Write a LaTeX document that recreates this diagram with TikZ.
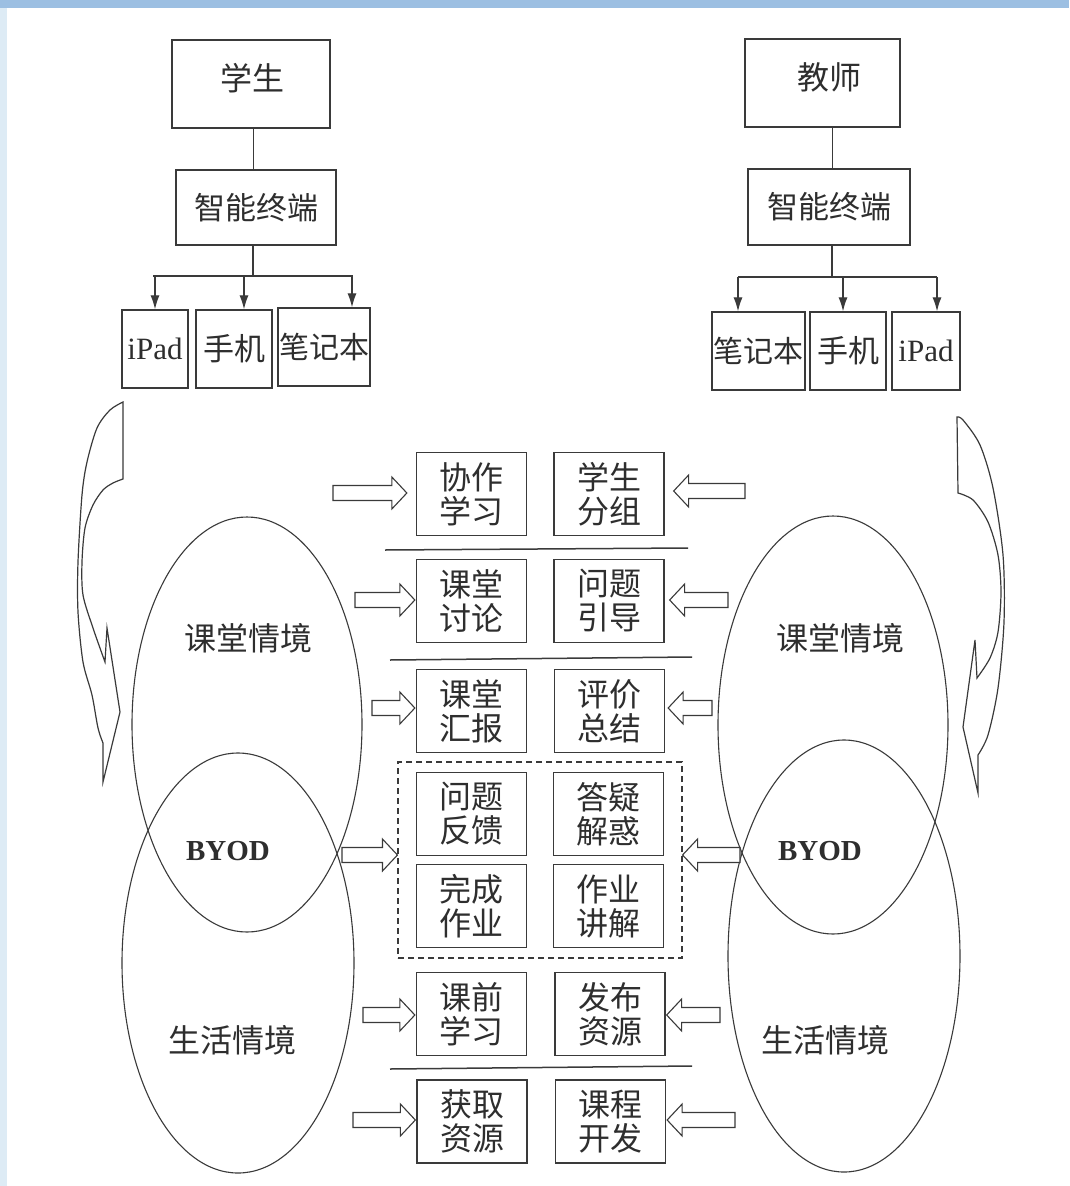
\documentclass[tikz,border=0pt]{standalone}
\usepackage{fontspec}
\setmainfont{Liberation Serif}
\newfontfamily\cjk{Noto Sans CJK SC}
\usetikzlibrary{calc,shapes.geometric,arrows.meta}
\definecolor{ink}{HTML}{3A3A3A}
\definecolor{txt}{HTML}{2E2E2E}
\definecolor{topband}{HTML}{9CBFE2}
\definecolor{sideband}{HTML}{DDEBF5}
\tikzset{
  ln/.style={draw=ink, line width=1.3pt},
  thinln/.style={draw=ink, line width=0.9pt},
  box/.style={ln, rectangle, inner sep=0pt, text=txt},
  cbox/.style={box, minimum width=110pt, minimum height=83pt, align=center, font=\cjk\fontsize{32}{34}\selectfont},
  dbox/.style={box, font=\cjk\fontsize{31}{34}\selectfont},
  nbbox/.style={box, font=\cjk\fontsize{30}{34}\selectfont},
  latbox/.style={box, font=\fontsize{31}{34}\selectfont},
  ell/.style={draw=ink, line width=1.1pt, ellipse, inner sep=0pt},
  lab/.style={text=txt, inner sep=0pt, font=\cjk\fontsize{32}{34}\selectfont},
  blab/.style={text=txt, inner sep=0pt, font=\bfseries\fontsize{29}{34}\selectfont},
  harrow/.style={draw=ink, line width=1.1pt, fill=white},
  sepline/.style={draw=ink, line width=1.5pt},
  curv/.style={draw=ink, line width=1.2pt},
  tip/.style={draw=ink, line width=1.2pt, -{Latex[length=14pt,width=9pt]}},
}
% right-pointing hollow arrow: #1 tail coordinate, #2 target anchor, #3 gap
\newcommand\rarr[3]{%
  \draw[harrow] let \p1=(#1), \p2=(#2 |- #1) in
    (\x1,\y1+7.5pt) -- (\x2-#3pt-15pt,\y1+7.5pt) -- (\x2-#3pt-15pt,\y1+16pt)
    -- (\x2-#3pt,\y1) -- (\x2-#3pt-15pt,\y1-16pt) -- (\x2-#3pt-15pt,\y1-7.5pt)
    -- (\x1,\y1-7.5pt) -- cycle;}
% left-pointing hollow arrow
\newcommand\larr[3]{%
  \draw[harrow] let \p1=(#1), \p2=(#2 |- #1) in
    (\x1,\y1+7.5pt) -- (\x2+#3pt+15pt,\y1+7.5pt) -- (\x2+#3pt+15pt,\y1+16pt)
    -- (\x2+#3pt,\y1) -- (\x2+#3pt+15pt,\y1-16pt) -- (\x2+#3pt+15pt,\y1-7.5pt)
    -- (\x1,\y1-7.5pt) -- cycle;}
\begin{document}
\begin{tikzpicture}[x=1pt,y=-1pt]
\useasboundingbox (0,0) rectangle (1069,1186);
\fill[white] (0,0) rectangle (1069,1186);
\fill[topband] (0,0) rectangle (1069,8);
\fill[sideband] (0,8) rectangle (7,1186);

% ---------- ellipses ----------
\node[ell, minimum width=230pt, minimum height=415pt] (lu) at (247,724.5) {};
\node[ell, minimum width=232pt, minimum height=420pt] (ll) at (238,963) {};
\node[ell, minimum width=230pt, minimum height=418pt] (ru) at (833,725) {};
\node[ell, minimum width=232pt, minimum height=432pt] (rl) at (844,956) {};
\node[lab] (lut) at (248,638) {课堂情境};
\node[blab] (lbt) at (228,851) {BYOD};
\node[lab] (llt) at (232,1040) {生活情境};
\node[lab] (rut) at (840,638) {课堂情境};
\node[blab] (rbt) at (820,851) {BYOD};
\node[lab] (rlt) at (825,1040) {生活情境};

% ---------- curved arrows ----------
\draw[curv] (123,402) -- (123,479)
  -- plot[smooth] coordinates {(123,479) (113,483) (103,490) (93,505) (85,528) (82,562) (83,595) (93,628) (105,662)}
  -- (107,628) -- (120,712) -- (103,782) -- (103,743)
  -- plot[smooth] coordinates {(103,743) (98,728) (92,695) (83,662) (78,612) (78,562) (82,495) (87,462) (97,428) (110,410) (123,402)} -- cycle;
\draw[curv] (957,417) -- (958,493)
  -- plot[smooth] coordinates {(958,493) (973,500) (988,522) (998,555) (1001,592) (998,632) (990,658) (977,678)}
  -- (975,640) -- (963,727) -- (978,793) -- (978,755)
  -- plot[smooth] coordinates {(978,755) (988,735) (998,688) (1004,622) (1003,555) (993,488) (980,445) (963,420) (957,417)} -- cycle;

% ---------- left tree ----------
\node[box, minimum width=158pt, minimum height=88pt] (stu) at (251,84) {};
\node[lab] (stut) at (252,78) {学生};
\node[dbox, minimum width=160pt, minimum height=75pt] (lterm) at (256,207.5) {智能终端};
\coordinate (lv) at (253,0);
\draw[thinln] (stu.south -| lv) -- (lterm.north -| lv);
\coordinate (lbarL) at (153,276);
\coordinate (lbarR) at (353,276);
\draw[ln] (lterm.south -| lv) -- (lv |- lbarL);
\draw[ln] (lbarL) -- (lbarR);
\node[latbox, minimum width=66pt, minimum height=78pt] (lipad) at (155,349) {iPad};
\node[dbox, minimum width=76pt, minimum height=78pt] (lphone) at (234,349) {手机};
\node[nbbox, minimum width=92pt, minimum height=78pt] (lnote) at (324,347) {笔记本};
\coordinate (la1) at (155,276);
\coordinate (la2) at (244,276);
\coordinate (la3) at (352,276);
\draw[tip] (la1) -- (la1 |- lipad.north);
\draw[tip] (la2) -- (la2 |- lphone.north);
\draw[tip] (la3) -- (la3 |- lnote.north);

% ---------- right tree ----------
\node[box, minimum width=155pt, minimum height=88pt] (tea) at (822.5,83) {};
\node[lab] (teat) at (829,77) {教师};
\node[dbox, minimum width=162pt, minimum height=76pt] (rterm) at (829,207) {智能终端};
\coordinate (rv) at (832,0);
\draw[thinln] (tea.south -| rv) -- (rterm.north -| rv);
\coordinate (rbarL) at (738,277);
\coordinate (rbarR) at (937,277);
\draw[ln] (rterm.south -| rv) -- (rv |- rbarL);
\draw[ln] (rbarL) -- (rbarR);
\node[nbbox, minimum width=93pt, minimum height=78pt] (rnote) at (758.5,351) {笔记本};
\node[dbox, minimum width=76pt, minimum height=78pt] (rphone) at (848,351) {手机};
\node[latbox, minimum width=68pt, minimum height=78pt] (ripad) at (926,351) {iPad};
\coordinate (ra1) at (738,277);
\coordinate (ra2) at (843,277);
\coordinate (ra3) at (937,277);
\draw[tip] (ra1) -- (ra1 |- rnote.north);
\draw[tip] (ra2) -- (ra2 |- rphone.north);
\draw[tip] (ra3) -- (ra3 |- ripad.north);

% ---------- centre boxes ----------
\node[cbox] (a1) at (471.5,494) {协作\\学习};
\node[cbox] (b1) at (609,494) {学生\\分组};
\node[cbox] (a2) at (471.5,601) {课堂\\讨论};
\node[cbox] (b2) at (609,601) {问题\\引导};
\node[cbox] (a3) at (471.5,711) {课堂\\汇报};
\node[cbox] (b3) at (609.5,711) {评价\\总结};
\node[cbox] (a4) at (471.5,814) {问题\\反馈};
\node[cbox] (b4) at (608.5,814) {答疑\\解惑};
\node[cbox] (a5) at (471.5,906) {完成\\作业};
\node[cbox] (b5) at (608.5,906) {作业\\讲解};
\node[cbox] (a6) at (471.5,1014) {课前\\学习};
\node[cbox] (b6) at (610,1014) {发布\\资源};
\node[cbox] (a7) at (472,1121.5) {获取\\资源};
\node[cbox] (b7) at (610.5,1121.5) {课程\\开发};
\node[box, line width=1.1pt, dash pattern=on 6pt off 4pt, minimum width=284pt, minimum height=196pt] (dash) at (540,860) {};

\draw[sepline] (385,550) -- (688,548);
\draw[sepline] (390,660) -- (692,657);
\draw[sepline] (390,1069) -- (692,1066);

% ---------- hollow arrows ----------
\coordinate (l1) at (333,493);  \coordinate (r1) at (745,491);
\coordinate (l2) at (355,600);  \coordinate (r2) at (728,600);
\coordinate (l3) at (372,708);  \coordinate (r3) at (712,708);
\coordinate (l4) at (342,855);  \coordinate (r4) at (740,855);
\coordinate (l5) at (363,1015); \coordinate (r5) at (720,1015);
\coordinate (l6) at (353,1120); \coordinate (r6) at (735,1120);
\rarr{l1}{a1.west}{9}  \larr{r1}{b1.east}{9}
\rarr{l2}{a2.west}{1}  \larr{r2}{b2.east}{5}
\rarr{l3}{a3.west}{1}  \larr{r3}{b3.east}{3}
\rarr{l4}{dash.west}{0} \larr{r4}{dash.east}{0}
\rarr{l5}{a6.west}{1}  \larr{r5}{b6.east}{1}
\rarr{l6}{a7.west}{1}  \larr{r6}{b7.east}{1}
\end{tikzpicture}
\end{document}
